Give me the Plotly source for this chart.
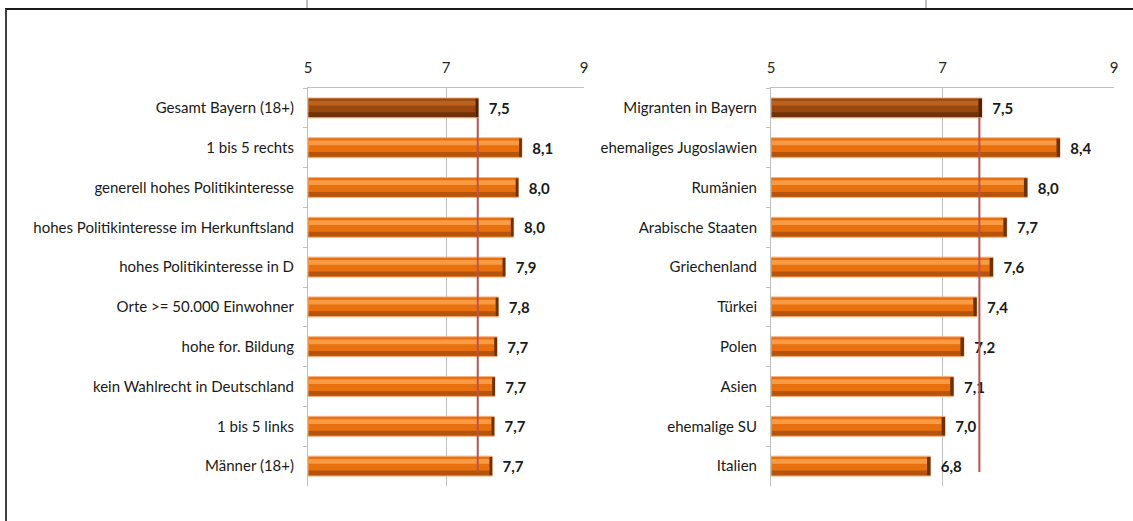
import plotly.graph_objects as go

# left panel: Bayern overall and subgroups
left_cats = ['Gesamt Bayern (18+)', '1 bis 5 rechts', 'generell hohes Politikinteresse',
             'hohes Politikinteresse im Herkunftsland', 'hohes Politikinteresse in D',
             'Orte >= 50.000 Einwohner', 'hohe for. Bildung', 'kein Wahlrecht in Deutschland',
             '1 bis 5 links', 'Männer (18+)']
left_vals = [7.47, 8.10, 8.05, 7.98, 7.86, 7.76, 7.74, 7.71, 7.70, 7.67]
left_text = ['7,5', '8,1', '8,0', '8,0', '7,9', '7,8', '7,7', '7,7', '7,7', '7,7']
left_ref = 7.46

# right panel: migrants by origin
right_cats = ['Migranten in Bayern', 'ehemaliges Jugoslawien', 'Rumänien', 'Arabische Staaten',
              'Griechenland', 'Türkei', 'Polen', 'Asien', 'ehemalige SU', 'Italien']
right_vals = [7.46, 8.37, 7.99, 7.75, 7.59, 7.40, 7.25, 7.13, 7.03, 6.86]
right_text = ['7,5', '8,4', '8,0', '7,7', '7,6', '7,4', '7,2', '7,1', '7,0', '6,8']
right_ref = 7.43

x_ticks = [5, 7, 9]

FONT = 'Lato'
W, H = 1133, 521

fig = go.Figure()


def add_bars(cats, vals, text, xa, ya):
    n = len(cats)
    # first bar (total) is brown, rest orange
    base_col = ['#9A4810'] + ['#E8700E'] * (n - 1)
    hi_col = ['#B9631F'] + ['#F99B45'] * (n - 1)
    lo_col = ['#703309'] + ['#B5540D'] * (n - 1)
    cap_col = ['#4A2206'] + ['#6B3208'] * (n - 1)
    lengths = [v - 5 for v in vals]
    fig.add_trace(go.Bar(
        y=cats, x=lengths, base=5, orientation='h', width=0.5, offset=-0.25,
        marker=dict(color=base_col, line=dict(color='#F4B183', width=1)),
        text=['  ' + t for t in text], textposition='outside', cliponaxis=False,
        textfont=dict(family=FONT, size=15, color='#1a1a1a', weight='bold'),
        xaxis=xa, yaxis=ya, showlegend=False, hoverinfo='skip'))
    fig.add_trace(go.Bar(
        y=cats, x=[l - 0.05 for l in lengths], base=5.01, orientation='h', width=0.12, offset=-0.18,
        marker=dict(color=hi_col, line=dict(width=0)),
        xaxis=xa, yaxis=ya, showlegend=False, hoverinfo='skip'))
    fig.add_trace(go.Bar(
        y=cats, x=[l - 0.05 for l in lengths], base=5.01, orientation='h', width=0.12, offset=0.11,
        marker=dict(color=lo_col, line=dict(width=0)),
        xaxis=xa, yaxis=ya, showlegend=False, hoverinfo='skip'))
    fig.add_trace(go.Bar(
        y=cats, x=[0.04] * n, base=[v - 0.04 for v in vals], orientation='h', width=0.46, offset=-0.23,
        marker=dict(color=cap_col, line=dict(width=0)),
        xaxis=xa, yaxis=ya, showlegend=False, hoverinfo='skip'))


add_bars(left_cats, left_vals, left_text, 'x', 'y')
add_bars(right_cats, right_vals, right_text, 'x2', 'y2')

ydom = [1 - 486 / H, 1 - 88 / H]
xcommon = dict(range=[5, 9], tickvals=x_ticks, side='top', showgrid=True, gridcolor='#BFBFBF',
               gridwidth=1, showline=True, linecolor='#BFBFBF', zeroline=False, ticks='',
               ticklabelstandoff=8,
               tickfont=dict(family=FONT, size=15, color='#262626'), automargin=False, fixedrange=True)
ycommon = dict(type='category', autorange='reversed', showline=True, linecolor='#BFBFBF',
               ticks='outside', tickson='boundaries', ticklen=4, tickcolor='#BFBFBF',
               showgrid=False, ticklabelstandoff=10, automargin=False,
               tickfont=dict(family=FONT, size=15, color='#1a1a1a'), fixedrange=True)

fig.update_layout(
    width=W, height=H, barmode='overlay',
    margin=dict(l=0, r=0, t=0, b=0),
    paper_bgcolor='white', plot_bgcolor='white',
    xaxis=dict(domain=[308 / W, 584 / W], anchor='y', **xcommon),
    yaxis=dict(domain=ydom, anchor='x', **ycommon),
    xaxis2=dict(domain=[771 / W, 1114 / W], anchor='y2', **xcommon),
    yaxis2=dict(domain=ydom, anchor='x2', **ycommon),
    shapes=[
        dict(type='line', xref='x', yref='y', x0=left_ref, x1=left_ref, y0=0.25, y1=9.15,
             line=dict(color='#C0504D', width=2)),
        dict(type='line', xref='x2', yref='y2', x0=right_ref, x1=right_ref, y0=0.25, y1=9.15,
             line=dict(color='#C0504D', width=2)),
        # outer frame (top and left edge) plus the small cell marks above it
        dict(type='line', xref='paper', yref='paper', x0=5 / W, x1=1, y0=1 - 9 / H, y1=1 - 9 / H,
             line=dict(color='#1a1a1a', width=2)),
        dict(type='line', xref='paper', yref='paper', x0=6 / W, x1=6 / W, y0=0, y1=1 - 9 / H,
             line=dict(color='#404040', width=2)),
        dict(type='line', xref='paper', yref='paper', x0=307 / W, x1=307 / W, y0=1 - 8 / H, y1=1,
             line=dict(color='#808080', width=1)),
        dict(type='line', xref='paper', yref='paper', x0=926 / W, x1=926 / W, y0=1 - 8 / H, y1=1,
             line=dict(color='#808080', width=1)),
    ],
)

fig.write_html("out.html", config={'displayModeBar': False},
               post_script="document.body.style.margin='0';")
